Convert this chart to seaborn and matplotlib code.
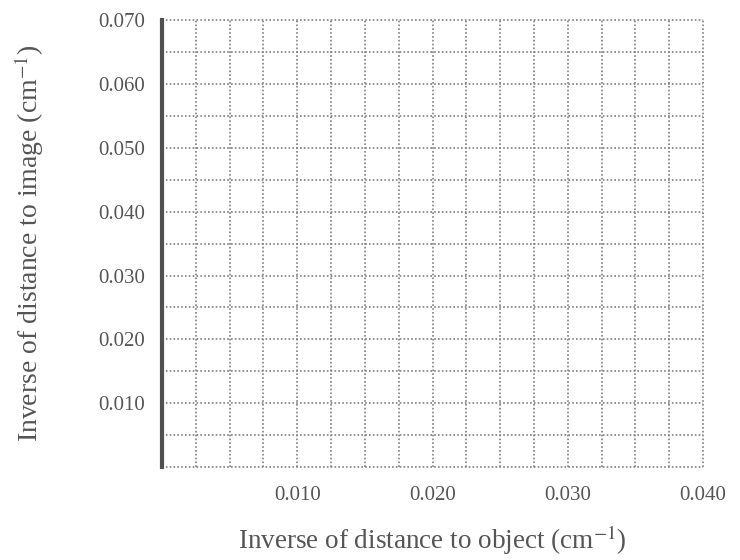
import numpy as np
import matplotlib
matplotlib.use('Agg')
import matplotlib.pyplot as plt
import seaborn as sns
from matplotlib.ticker import FixedLocator

# Ticks of the empty graph-paper chart
x_ticks = [0.010, 0.020, 0.030, 0.040]
x_labels = ['0.010', '0.020', '0.030', '0.040']
y_ticks = [0.010, 0.020, 0.030, 0.040, 0.050, 0.060, 0.070]
y_labels = ['0.010', '0.020', '0.030', '0.040', '0.050', '0.060', '0.070']
x_grid = [0.0, 0.0025, 0.005, 0.0075, 0.010, 0.0125, 0.015, 0.0175, 0.020,
          0.0225, 0.025, 0.0275, 0.030, 0.0325, 0.035, 0.0375, 0.040]
y_grid = [0.0, 0.005, 0.010, 0.015, 0.020, 0.025, 0.030, 0.035, 0.040,
          0.045, 0.050, 0.055, 0.060, 0.065, 0.070]

sns.set_theme(style='white')
plt.rcParams['font.family'] = ['Liberation Serif', 'DejaVu Serif']
plt.rcParams['mathtext.fontset'] = 'stix'

text_col = '#555555'
grid_col = '#808080'

fig = plt.figure(figsize=(7.4, 5.6), dpi=100)
ax = fig.add_axes([0.219, 0.166, 0.731, 0.798])

ax.set_xlim(0, 0.040)
ax.set_ylim(0, 0.070)

ax.xaxis.set_major_locator(FixedLocator(x_ticks))
ax.yaxis.set_major_locator(FixedLocator(y_ticks))
ax.set_xticklabels(x_labels)
ax.set_yticklabels(y_labels)
ax.xaxis.set_minor_locator(FixedLocator(x_grid))
ax.yaxis.set_minor_locator(FixedLocator(y_grid))

# dotted graph-paper grid on every 0.0025 / 0.005 step, edges included
ax.grid(which='both', color=grid_col, linestyle=(0, (1, 1.3)), linewidth=1.2,
        clip_on=False)

ax.tick_params(which='both', length=0, labelsize=15, labelcolor=text_col)
ax.tick_params(axis='x', pad=14)
ax.tick_params(axis='y', pad=12)

sns.despine(ax=ax, top=True, right=True, bottom=True, left=False)
ax.spines['left'].set_color('#505050')
ax.spines['left'].set_linewidth(3)
ax.spines['left'].set_zorder(5)

ax.set_xlabel('Inverse of distance to object (cm$^{-1}$)', fontsize=19.5,
              color=text_col, labelpad=13)
ax.set_ylabel('Inverse of distance to image (cm$^{-1}$)', fontsize=20,
              color=text_col, labelpad=38)

fig.savefig('out.png', dpi=100, facecolor='white')
